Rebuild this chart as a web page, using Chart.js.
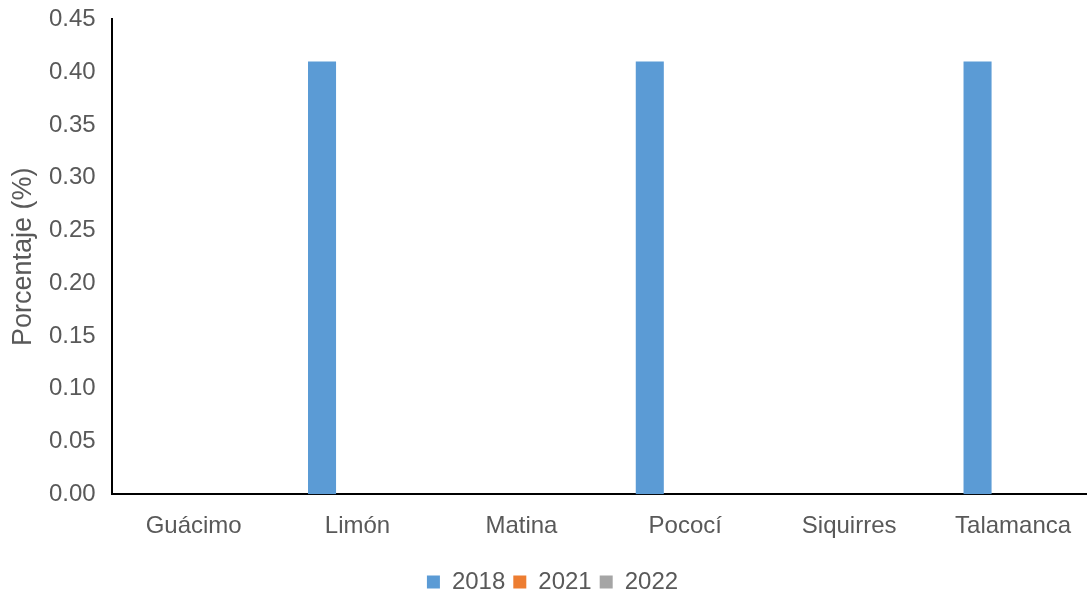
<!DOCTYPE html>
<html>
<head>
<meta charset="utf-8">
<script src="https://cdn.jsdelivr.net/npm/chart.js@4/dist/chart.umd.min.js"></script>
<style>
html,body{margin:0;padding:0;background:#fff;overflow:hidden;}
#wrap{width:1095px;height:615px;position:relative;top:-11px;}
</style>
</head>
<body>
<div id="wrap"><canvas id="chart"></canvas></div>
<script>
const cantones=["Guácimo","Limón","Matina","Pococí","Siquirres","Talamanca"];
const years=["2018","2021","2022"];
const v2018=[0,0.41,0,0.41,0,0.41];
const v2021=[0,0,0,0,0,0];
const v2022=[0,0,0,0,0,0];
const colors=["#5B9BD5","#ED7D31","#A5A5A5"];

Chart.defaults.font.family="'Liberation Sans', Arial, sans-serif";
Chart.defaults.color="#595959";

const ctx=document.getElementById("chart").getContext("2d");
new Chart(ctx,{
  type:"bar",
  data:{
    labels:cantones,
    datasets:[v2018,v2021,v2022].map((d,i)=>({
      label:years[i],
      data:d,
      backgroundColor:colors[i],
      categoryPercentage:0.65,
      barPercentage:0.79
    }))
  },
  options:{
    responsive:true,
    maintainAspectRatio:false,
    animation:false,
    layout:{padding:{top:4,left:10,right:0,bottom:0}},
    plugins:{
      legend:{
        position:"bottom",
        labels:{boxWidth:13,boxHeight:13,font:{size:24},padding:8,color:"#595959"}
      },
      tooltip:{enabled:false}
    },
    scales:{
      x:{
        grid:{display:false,drawTicks:false},
        border:{display:true,color:"#000",width:2},
        ticks:{font:{size:24},padding:18,color:"#595959"},
        afterFit:s=>{s.height+=3;}
      },
      y:{
        min:0,max:0.45,
        grid:{display:false,drawTicks:false},
        border:{display:true,color:"#000",width:2},
        ticks:{stepSize:0.05,font:{size:24},padding:16,color:"#595959",
          callback:v=>v.toFixed(2)},
        title:{display:true,text:"Porcentaje (%)",font:{size:27,lineHeight:1},color:"#595959",padding:{top:0,bottom:10}},
        afterFit:s=>{s.width-=14;}
      }
    }
  }
});
</script>
</body>
</html>
